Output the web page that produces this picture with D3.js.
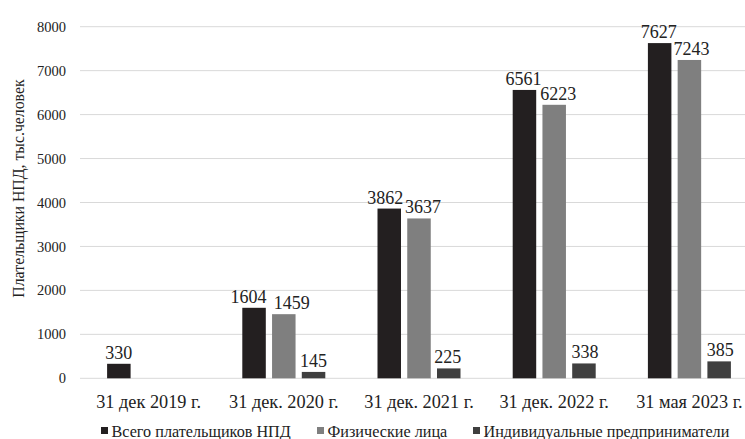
<!DOCTYPE html>
<html><head><meta charset="utf-8">
<script src="https://cdn.jsdelivr.net/npm/d3@7"></script>
<style>html,body{margin:0;padding:0;background:#fff;}svg{display:block;}</style>
</head><body>
<svg id="c" width="745" height="439"></svg>
<script>
const categories = ["31 дек 2019 г.", "31 дек. 2020 г.", "31 дек. 2021 г.", "31 дек. 2022 г.", "31 мая 2023 г."];
const seriesNames = ["Всего плательщиков НПД", "Физические лица", "Индивидуальные предприниматели"];
const totalPayers = [330, 1604, 3862, 6561, 7627];
const individuals = [null, 1459, 3637, 6223, 7243];
const entrepreneurs = [null, 145, 225, 338, 385];
const yTicks = [0, 1000, 2000, 3000, 4000, 5000, 6000, 7000, 8000];
const yTitle = "Плательщики НПД, тыс.человек";
const colors = ["#231f20", "#7f7f7f", "#3f3f3f"];

const seriesValues = [totalPayers, individuals, entrepreneurs];
const svg = d3.select("#c");
const font = "'Liberation Serif','Times New Roman',serif";
const textColor = "#222";

// small manual nudges of data labels (as in the reference) to avoid collisions
const labelNudge = [
  [0, -5.5, -4, -1, -1],
  [0, 8, 4, 4, 2],
  [0, 0, -1, 1, 1]
];

const x0 = d3.scaleBand().domain(categories).range([81, 757]).padding(0);
const groupW = 83;
const x1 = d3.scaleBand().domain(seriesNames)
  .range([x0.bandwidth()/2 - groupW/2, x0.bandwidth()/2 + groupW/2])
  .paddingInner(0.21).paddingOuter(0);
const y = d3.scaleLinear().domain([0, 8000]).range([378.3, 26.7]);

// gridlines
svg.append("g").selectAll("line").data(yTicks).join("line")
  .attr("x1", 80).attr("x2", 745)
  .attr("y1", d => y(d)).attr("y2", d => y(d))
  .attr("stroke", "#d9d9d9").attr("stroke-width", 1);

// y tick labels
svg.append("g").selectAll("text").data(yTicks).join("text")
  .attr("x", 66).attr("y", d => y(d)).attr("dy", "0.35em")
  .attr("text-anchor", "end").attr("font-family", font).attr("font-size", 14.5)
  .attr("fill", textColor).text(d => d);

// y title
svg.append("text")
  .attr("transform", `translate(24,188.5) rotate(-90)`)
  .attr("text-anchor", "middle").attr("font-family", font).attr("font-size", 15.8)
  .attr("fill", textColor).text(yTitle);

// bars
const data = [];
categories.forEach((c, i) => {
  seriesNames.forEach((s, j) => {
    const v = seriesValues[j][i];
    if (v != null) data.push({c, s, v, j, i});
  });
});
const g = svg.append("g");
g.selectAll("rect").data(data).join("rect")
  .attr("x", d => x0(d.c) + x1(d.s))
  .attr("width", x1.bandwidth())
  .attr("y", d => y(d.v))
  .attr("height", d => y(0) - y(d.v))
  .attr("fill", d => colors[d.j]);

g.selectAll("text").data(data).join("text")
  .attr("x", d => x0(d.c) + x1(d.s) + x1.bandwidth()/2 + labelNudge[d.j][d.i])
  .attr("y", d => y(d.v) - 5)
  .attr("text-anchor", "middle").attr("font-family", font).attr("font-size", 18)
  .attr("fill", textColor).text(d => d.v);

// x labels
svg.append("g").selectAll("text").data(categories).join("text")
  .attr("x", d => x0(d) + x0.bandwidth()/2)
  .attr("y", 408)
  .attr("text-anchor", "middle").attr("font-family", font).attr("font-size", 18.3)
  .attr("fill", textColor).text(d => d);

// legend
const legendX = [101, 317, 473];
const lg = svg.append("g").selectAll("g").data(seriesNames).join("g")
  .attr("transform", (d, i) => `translate(${legendX[i]},0)`);
lg.append("rect").attr("x", 0).attr("y", 427).attr("width", 7).attr("height", 7)
  .attr("fill", (d, i) => colors[i]);
lg.append("text").attr("x", 10.5).attr("y", 436.5)
  .attr("font-family", font).attr("font-size", 16.2).attr("fill", textColor).text(d => d);
</script>
</body></html>
